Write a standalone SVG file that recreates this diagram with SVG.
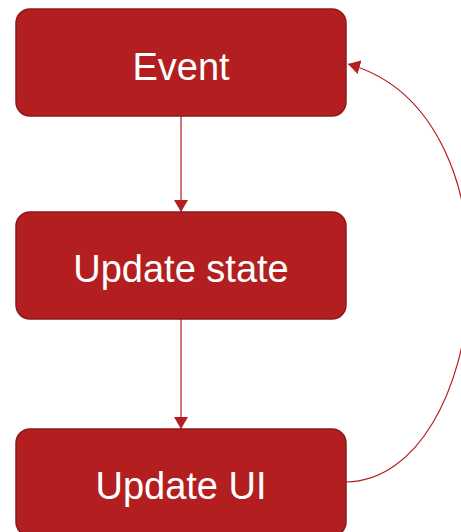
<svg xmlns="http://www.w3.org/2000/svg" width="461" height="532" viewBox="0 0 461 532">
  <style>
    .box { fill: #b31f21; stroke: #8c1a1b; stroke-width: 1.5; }
    .label { fill: #ffffff; font-family: "Liberation Sans", Arial, sans-serif; font-size: 38px; text-anchor: middle; }
    .edge { fill: none; stroke: #b31f21; stroke-width: 1.2; }
  </style>
  <defs>
    <marker id="arrow" viewBox="0 0 12 14" refX="12" refY="7" markerWidth="12" markerHeight="14" markerUnits="userSpaceOnUse" orient="auto">
      <path d="M0,0 L12,7 L0,14 Z" fill="#b31f21"/>
    </marker>
  </defs>

  <g id="connectors">
    <line class="edge" x1="181" y1="116" x2="181" y2="212" marker-end="url(#arrow)"/>
    <line class="edge" x1="181" y1="319" x2="181" y2="429" marker-end="url(#arrow)"/>
    <path class="edge" d="M346,482 C490,480 530,115 348,64" marker-end="url(#arrow)"/>
  </g>

  <g id="event">
    <rect class="box" x="16" y="9" width="330" height="107" rx="14"/>
    <text class="label" x="181" y="80">Event</text>
  </g>

  <g id="update-state">
    <rect class="box" x="16" y="212" width="330" height="107" rx="14"/>
    <text class="label" x="181" y="282">Update state</text>
  </g>

  <g id="update-ui">
    <rect class="box" x="16" y="429" width="330" height="107" rx="14"/>
    <text class="label" x="181" y="499">Update UI</text>
  </g>
</svg>
